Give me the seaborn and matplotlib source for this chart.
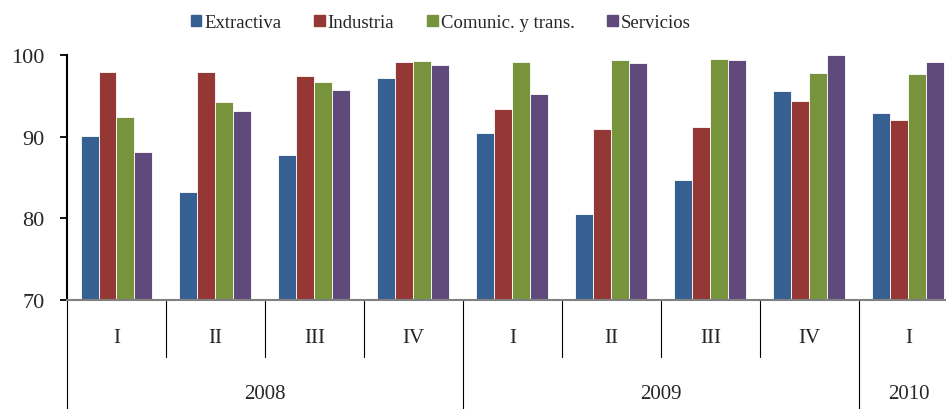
import pandas as pd
import matplotlib.pyplot as plt
import matplotlib.transforms as mtransforms
import seaborn as sns

# periods (quarter, year)
quarters = ["I", "II", "III", "IV", "I", "II", "III", "IV", "I"]
years = ["2008", "2008", "2008", "2008", "2009", "2009", "2009", "2009", "2010"]
sectors = ["Extractiva", "Industria", "Comunic. y trans.", "Servicios"]

extractiva = [90.1, 83.2, 87.7, 97.2, 90.5, 80.5, 84.7, 95.6, 92.9]
industria = [97.9, 97.9, 97.4, 99.2, 93.4, 90.9, 91.2, 94.4, 92.0]
comunic = [92.4, 94.2, 96.7, 99.3, 99.1, 99.4, 99.5, 97.8, 97.7]
servicios = [88.1, 93.1, 95.7, 98.8, 95.2, 99.0, 99.4, 100.0, 99.1]

colors = ["#366092", "#953735", "#77933C", "#604A7B"]

periods = [y + "-" + q for y, q in zip(years, quarters)]
df = pd.DataFrame({
    "periodo": periods * 4,
    "sector": [s for s in sectors for _ in periods],
    "valor": extractiva + industria + comunic + servicios,
})

sns.set_theme(style="white")
plt.rcParams["font.family"] = ["Liberation Serif", "DejaVu Serif"]

fig = plt.figure(figsize=(9.46, 4.10), dpi=100)
ax = fig.add_axes([67 / 946, 1 - 301 / 410, 1 - 67 / 946, 245 / 410])

sns.barplot(data=df, x="periodo", y="valor", hue="sector", order=periods,
            hue_order=sectors, palette=colors, width=0.727, saturation=1,
            edgecolor="white", linewidth=0.6, errorbar=None, ax=ax)

ax.set_ylim(70, 100)
ax.set_xlim(-0.5, 8.38)
ax.set_yticks([70, 80, 90, 100])
ax.tick_params(axis="y", direction="out", length=5, width=1.3, color="black",
               labelsize=16, pad=11, left=True)
ax.set_xticks([])
ax.set_xlabel("")
ax.set_ylabel("")
for s in ["top", "right"]:
    ax.spines[s].set_visible(False)
ax.spines["left"].set_color("black")
ax.spines["left"].set_linewidth(1.5)
ax.spines["bottom"].set_color("#808080")
ax.spines["bottom"].set_linewidth(1.5)

# category axis: quarter and year labels with separators
trans = mtransforms.blended_transform_factory(ax.transData, ax.transAxes)
for i, q in enumerate(quarters):
    ax.text(i, -0.155, q, transform=trans, ha="center", va="center", fontsize=15)
for i in range(1, len(quarters)):
    if years[i] != years[i - 1]:
        continue
    ax.plot([i - 0.5, i - 0.5], [0, -0.233], transform=trans, color="black",
            lw=0.8, clip_on=False)
bounds = [0]
for i in range(1, len(years)):
    if years[i] != years[i - 1]:
        bounds.append(i)
for b in bounds:
    ax.plot([b - 0.5, b - 0.5], [0, -0.45], transform=trans, color="black",
            lw=0.8, clip_on=False)
bounds.append(len(years))
for a, b in zip(bounds[:-1], bounds[1:]):
    ax.text((a + b - 1) / 2, -0.383, years[a], transform=trans, ha="center",
            va="center", fontsize=15)

ax.get_legend().remove()
handles = [plt.Rectangle((0, 0), 1, 1, color=c) for c in colors]
fig.legend(handles, sectors, loc="center", bbox_to_anchor=(0.466, 0.942),
           ncol=4, frameon=False, fontsize=13.5, handlelength=0.55,
           handleheight=0.55, handletextpad=0.17, columnspacing=1.75)

fig.savefig("out.png", dpi=100)
